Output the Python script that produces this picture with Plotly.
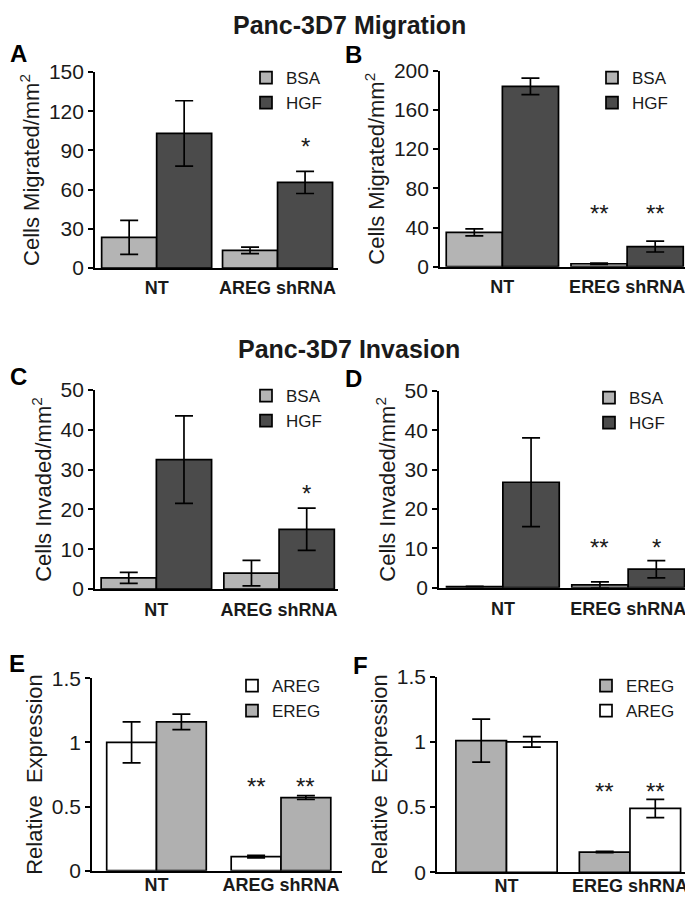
import plotly.graph_objects as go

# ---------------- data ----------------
cats_areg = ["NT", "AREG shRNA"]
cats_ereg = ["NT", "EREG shRNA"]

# Panel A: migration, AREG shRNA
A_bsa = [23.5, 13.5]
A_bsa_err = [13.0, 2.5]
A_hgf = [103.0, 65.5]
A_hgf_err = [25.0, 8.5]

# Panel B: migration, EREG shRNA
B_bsa = [35.0, 3.0]
B_bsa_err = [3.5, 0.6]
B_hgf = [184.0, 20.5]
B_hgf_err = [8.5, 5.5]

# Panel C: invasion, AREG shRNA
C_bsa = [2.8, 4.0]
C_bsa_err = [1.4, 3.2]
C_hgf = [32.5, 15.0]
C_hgf_err = [11.0, 5.3]

# Panel D: invasion, EREG shRNA
D_bsa = [0.3, 0.7]
D_bsa_err = [0.05, 0.8]
D_hgf = [26.8, 4.7]
D_hgf_err = [11.3, 2.2]

# Panel E: relative expression, AREG shRNA
E_areg = [1.0, 0.11]
E_areg_err = [0.16, 0.01]
E_ereg = [1.16, 0.57]
E_ereg_err = [0.06, 0.015]

# Panel F: relative expression, EREG shRNA
F_ereg = [1.01, 0.155]
F_ereg_err = [0.165, 0.005]
F_areg = [1.0, 0.49]
F_areg_err = [0.04, 0.07]

# significance markers: (panel, bar index 0/1 within shRNA group, text, y)
stars = [
    ("A", 1, "*", 96),
    ("B", 0, "**", 58), ("B", 1, "**", 58),
    ("C", 1, "*", 25),
    ("D", 0, "**", 11.3), ("D", 1, "*", 11.3),
    ("E", 0, "**", 0.686), ("E", 1, "**", 0.686),
    ("F", 0, "**", 0.653), ("F", 1, "**", 0.653),
]

# ---------------- styling ----------------
W, H = 693, 900
OFF = 8  # page body margin offset compensation
FONT = "Arial, Liberation Sans, sans-serif"
TXT = "#1a1a1a"
LIGHT = "#b4b4b4"
DARK = "#4b4b4b"
WHITE = "#ffffff"
MID = "#b0b0b0"


def px_x(p):
    return (p - OFF) / W


def px_y(p):
    return 1 - (p - OFF) / H


def xd(p0, p1):
    return [px_x(p0), px_x(p1)]


def yd(top, bot):
    return [px_y(bot), px_y(top)]


panels = [
    dict(key="A", cats=cats_areg, box=(95, 338, 72, 268), xr=[-0.51, 1.5], yr=[0, 150], dt=30,
         bw=0.455, ytitle="Cells Migrated/mm<sup>2</sup>",
         series=[("BSA", A_bsa, A_bsa_err, LIGHT), ("HGF", A_hgf, A_hgf_err, DARK)],
         leg=(246, 60), ticks=None, lstand=3),
    dict(key="B", cats=cats_ereg, box=(440, 687, 70.7, 266.7), xr=[-0.5, 1.48], yr=[0, 200], dt=40,
         bw=0.45, ytitle="Cells Migrated/mm<sup>2</sup>",
         series=[("BSA", B_bsa, B_bsa_err, LIGHT), ("HGF", B_hgf, B_hgf_err, DARK)],
         leg=(592, 60), ticks=None, lstand=3),
    dict(key="C", cats=cats_areg, box=(95, 338, 390, 589), xr=[-0.5, 1.48], yr=[0, 50], dt=10,
         bw=0.45, ytitle="Cells Invaded/mm<sup>2</sup>",
         series=[("BSA", C_bsa, C_bsa_err, LIGHT), ("HGF", C_hgf, C_hgf_err, DARK)],
         leg=(246, 378), ticks=None, lstand=4),
    dict(key="D", cats=cats_ereg, box=(439, 687, 391, 587.7), xr=[-0.51, 1.47], yr=[0, 50], dt=10,
         bw=0.45, ytitle="Cells Invaded/mm<sup>2</sup>",
         series=[("BSA", D_bsa, D_bsa_err, LIGHT), ("HGF", D_hgf, D_hgf_err, DARK)],
         leg=(589, 380), ticks=None, lstand=4),
    dict(key="E", cats=cats_areg, box=(92, 342, 678.3, 870.7), xr=[-0.518, 1.49], yr=[0, 1.5], dt=0.5,
         bw=0.40, ytitle="Relative  Expression",
         series=[("AREG", E_areg, E_areg_err, WHITE), ("EREG", E_ereg, E_ereg_err, MID)],
         leg=(232, 668), ticks=(["0", "0.5", "1", "1.5"]), lstand=-3),
    dict(key="F", cats=cats_ereg, box=(437, 688, 676.7, 872.3), xr=[-0.563, 1.47], yr=[0, 1.5], dt=0.5,
         bw=0.41, ytitle="Relative  Expression",
         series=[("EREG", F_ereg, F_ereg_err, MID), ("AREG", F_areg, F_areg_err, WHITE)],
         leg=(586, 668), ticks=(["0", "0.5", "1", "1.5"]), lstand=-4),
]

fig = go.Figure()
layout = dict(
    template="none",
    width=W, height=H, margin=dict(l=0, r=0, t=0, b=0, pad=0, autoexpand=False),
    paper_bgcolor="white", plot_bgcolor="white",
    barmode="overlay", font=dict(family=FONT, color=TXT),
)
annotations = []

for i, p in enumerate(panels, start=1):
    sfx = "" if i == 1 else str(i)
    xa, ya = "x" + sfx, "y" + sfx
    legname = "legend" + sfx
    x0, x1, top, bot = p["box"]
    bw = p["bw"]
    for j, (name, vals, errs, col) in enumerate(p["series"]):
        fig.add_trace(go.Bar(
            x=p["cats"], y=vals, name=name,
            width=bw, offset=-bw if j == 0 else 0,
            marker=dict(color=col, line=dict(color="black", width=1.7)),
            error_y=dict(type="data", array=errs, visible=True, color="black",
                         thickness=1.7, width=9),
            xaxis=xa, yaxis=ya, legend=legname, showlegend=True,
        ))
    layout["xaxis" + sfx] = dict(
        domain=xd(x0, x1), anchor=ya, type="category", range=p["xr"],
        showline=True, linecolor="black", linewidth=1.7, ticks="",
        showgrid=False, zeroline=False, automargin=False,
        tickfont=dict(family=FONT, size=18, color=TXT, weight="bold"),
        ticklabelstandoff=p["lstand"],
    )
    yax = dict(
        domain=yd(top, bot), anchor=xa, range=p["yr"],
        showline=True, linecolor="black", linewidth=1.7,
        ticks="outside", ticklen=5, tickwidth=1.5, tickcolor="black",
        showgrid=False, zeroline=False, automargin=False,
        tickmode="linear", tick0=0, dtick=p["dt"],
        tickfont=dict(family=FONT, size=21, color=TXT),
        title=dict(text=p["ytitle"], font=dict(family=FONT, size=22, color=TXT), standoff=3),
    )
    if p["ticks"]:
        yax.update(tickmode="array", tickvals=[0, 0.5, 1, 1.5], ticktext=p["ticks"])
    layout["yaxis" + sfx] = yax
    lx, ly = p["leg"]
    layout[legname] = dict(
        x=px_x(lx), y=px_y(ly), xanchor="left", yanchor="top",
        bgcolor="rgba(0,0,0,0)", borderwidth=0, tracegroupgap=0,
        font=dict(family=FONT, size=17, color=TXT), itemwidth=30,
    )
    # significance markers
    for key, bi, txt, yy in stars:
        if key != p["key"]:
            continue
        annotations.append(dict(
            x=1 + (-bw / 2 if bi == 0 else bw / 2), y=yy, xref=xa, yref=ya,
            text=txt, showarrow=False, yanchor="middle", yshift=-4,
            font=dict(family=FONT, size=24, color=TXT),
        ))

# titles and panel letters
headers = [("Panc-3D7 Migration", 349, 25), ("Panc-3D7 Invasion", 349, 349)]
for t, px, py in headers:
    annotations.append(dict(x=px_x(px), y=px_y(py), xref="paper", yref="paper", text="<b>" + t + "</b>",
                            showarrow=False, xanchor="center", yanchor="middle",
                            font=dict(family=FONT, size=25, color=TXT)))
letters = [("A", 18, 53), ("B", 353, 55), ("C", 18, 376), ("D", 353, 378), ("E", 17, 663), ("F", 360, 665)]
for t, px, py in letters:
    annotations.append(dict(x=px_x(px), y=px_y(py), xref="paper", yref="paper", text="<b>" + t + "</b>",
                            showarrow=False, xanchor="center", yanchor="middle",
                            font=dict(family=FONT, size=24, color="black")))

layout["annotations"] = annotations
fig.update_layout(**layout)
fig.write_html("out.html")
